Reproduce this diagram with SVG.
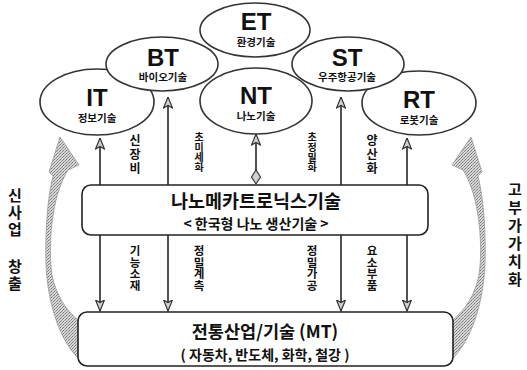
<svg xmlns="http://www.w3.org/2000/svg" width="527" height="370" viewBox="0 0 527 370">
<style>
.ell{fill:#fff;stroke:#333;stroke-width:1.6}
.box{fill:#fff;stroke:#222;stroke-width:1.6}
.big{font-family:"Liberation Sans",Arial,sans-serif;font-weight:bold;font-size:24px;fill:#111;text-anchor:middle}
.sub{font-family:"Noto Sans CJK KR",sans-serif;font-weight:bold;font-size:10.5px;fill:#111;text-anchor:middle}
.v{font-family:"Noto Sans CJK KR",sans-serif;font-weight:bold;fill:#111;writing-mode:vertical-rl;text-orientation:upright}
.t1{font-family:"Noto Sans CJK KR",sans-serif;font-weight:bold;font-size:18.5px;fill:#111;text-anchor:middle}
.t2{font-family:"Noto Sans CJK KR",sans-serif;font-weight:bold;font-size:14px;fill:#111;text-anchor:middle}
.ln{stroke:#333;stroke-width:1.7;fill:none}
.swoosh{fill:url(#dots);stroke:#999;stroke-width:0.8}
</style>
<defs>
<pattern id="dots" width="3" height="3" patternUnits="userSpaceOnUse">
<rect width="3" height="3" fill="#d6d6d6"/>
<rect width="1" height="1" fill="#777"/>
<rect x="2" y="1" width="1" height="1" fill="#888"/>
<rect x="1" y="2" width="1" height="1" fill="#999"/>
</pattern>
<marker id="head" viewBox="0 0 12 10" refX="11.5" refY="5" markerWidth="12" markerHeight="10" markerUnits="userSpaceOnUse" orient="auto">
<path d="M11.5,5 L0.5,0.5 L3,5 L0.5,9.5 Z" fill="#d0d0d0" stroke="#333" stroke-width="1.2"/>
</marker>
</defs>
<rect width="527" height="370" fill="#fff"/>

<g id="swooshes">
<path class="swoosh" d="M78,320 C66,310 56,295 52,275 C49,255 50,225 56,200 C59,188 63,178 68,170 L79,165 L60,137 L49,172 L53,176 C47,200 45,235 46,265 C48,305 60,340 78,358 Z"/>
<path class="swoosh" d="M453,320 C465,310 475,295 479,275 C482,255 481,225 475,200 C472,188 468,178 463,170 L452,165 L471,137 L482,172 L478,176 C484,200 486,235 485,265 C483,305 471,340 453,358 Z"/>
</g>

<g id="connectors">
<line class="ln" x1="100" y1="185" x2="100" y2="138" marker-end="url(#head)"/>
<line class="ln" x1="168" y1="185" x2="168" y2="97" marker-end="url(#head)"/>
<line class="ln" x1="256" y1="174" x2="256" y2="134" marker-end="url(#head)"/>
<path d="M256,184 L260.5,177 L256,170 L251.5,177 Z" fill="#d0d0d0" stroke="#333" stroke-width="1.2"/>
<line class="ln" x1="341" y1="185" x2="341" y2="97" marker-end="url(#head)"/>
<line class="ln" x1="407" y1="185" x2="407" y2="138" marker-end="url(#head)"/>
<line class="ln" x1="100" y1="235" x2="100" y2="311" marker-end="url(#head)"/>
<line class="ln" x1="168" y1="235" x2="168" y2="311" marker-end="url(#head)"/>
<line class="ln" x1="341" y1="235" x2="341" y2="311" marker-end="url(#head)"/>
<line class="ln" x1="407" y1="235" x2="407" y2="311" marker-end="url(#head)"/>
</g>

<g id="IT"><ellipse class="ell" cx="97" cy="102" rx="57" ry="33"/>
<text class="big" x="97" y="106">IT</text><text class="sub" x="97" y="122">정보기술</text></g>
<g id="RT"><ellipse class="ell" cx="419" cy="103" rx="57" ry="32"/>
<text class="big" x="419" y="108">RT</text><text class="sub" x="419" y="124">로봇기술</text></g>
<g id="BT"><ellipse class="ell" cx="162" cy="64" rx="56" ry="27"/>
<text class="big" x="163" y="66">BT</text><text class="sub" x="163" y="81">바이오기술</text></g>
<g id="ST"><ellipse class="ell" cx="348" cy="64" rx="56" ry="27"/>
<text class="big" x="347" y="66">ST</text><text class="sub" x="347" y="81">우주항공기술</text></g>
<g id="ET"><ellipse class="ell" cx="255" cy="30" rx="55" ry="27"/>
<text class="big" x="256" y="30">ET</text><text class="sub" x="256" y="46">환경기술</text></g>
<g id="NT"><ellipse class="ell" cx="256" cy="101" rx="56" ry="33"/>
<text class="big" x="256" y="104">NT</text><text class="sub" x="256" y="120">나노기술</text></g>

<g id="labels">
<text class="v" x="135" y="134" style="font-size:12px;letter-spacing:2px">신장비</text>
<text class="v" x="199" y="132" style="font-size:10px">초미세화</text>
<text class="v" x="312" y="132" style="font-size:10px">초정밀화</text>
<text class="v" x="372" y="134" style="font-size:12px;letter-spacing:2px">양산화</text>
<text class="v" x="135" y="245" style="font-size:11.5px">기능소재</text>
<text class="v" x="199" y="245" style="font-size:11.5px">정밀계측</text>
<text class="v" x="312" y="245" style="font-size:11.5px">정밀가공</text>
<text class="v" x="372" y="245" style="font-size:11.5px">요소부품</text>
<text class="v" x="15" y="188" style="font-size:15px;letter-spacing:2px">신사업</text>
<text class="v" x="15" y="259" style="font-size:15px;letter-spacing:2px">창출</text>
<text class="v" x="515" y="182" style="font-size:15px;letter-spacing:3px">고부가가치화</text>
</g>

<g id="nanomechatronics"><rect class="box" x="82" y="185" width="346" height="50" rx="9"/>
<text class="t1" x="256" y="208">나노메카트로닉스기술</text>
<text class="t2" x="256" y="229">&lt; 한국형 나노 생산기술 &gt;</text></g>

<g id="MT"><rect class="box" x="78" y="312" width="375" height="54" rx="9"/>
<text class="t1" x="265" y="338" style="font-size:17.5px">전통산업/기술 (MT)</text>
<text class="t2" x="265" y="360">( 자동차, 반도체, 화학, 철강 )</text></g>
</svg>
